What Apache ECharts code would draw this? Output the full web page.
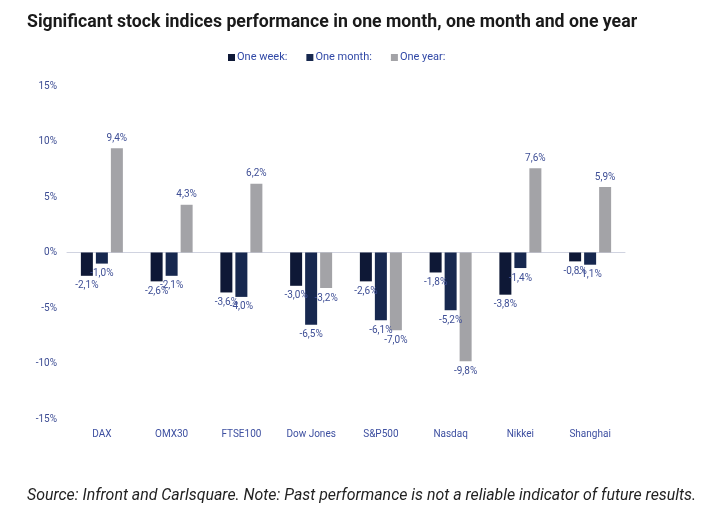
<!DOCTYPE html>
<html>
<head>
<meta charset="utf-8">
<script src="https://cdn.jsdelivr.net/npm/echarts@6/dist/echarts.min.js"></script>
<style>
html,body{margin:0;padding:0;background:#fff;}
#c{width:715px;height:513px;}
</style>
</head>
<body>
<div id="c"></div>
<script>
const categories = ['DAX','OMX30','FTSE100','Dow Jones','S&P500','Nasdaq','Nikkei','Shanghai'];
const oneWeek = [-2.1,-2.6,-3.6,-3.0,-2.6,-1.8,-3.8,-0.8];
const oneMonth = [-1.0,-2.1,-4.0,-6.5,-6.1,-5.2,-1.4,-1.1];
const oneYear = [9.4,4.3,6.2,-3.2,-7.0,-9.8,7.6,5.9];
const seriesNames = ['One week:','One month:','One year:'];

const labelColor = '#3f4f96';
function fmt(v){ return v.toFixed(1).replace('.', ',') + '%'; }
function mkData(arr){
  return arr.map(v => ({
    value: v,
    label: { position: v >= 0 ? 'top' : 'bottom' }
  }));
}
const colors = ['#0e1836','#17284f','#a3a3a7'];
function barSeries(i, arr){
  return {
    name: seriesNames[i], type: 'bar', data: mkData(arr),
    barWidth: 12, barGap: '25%',
    itemStyle: { color: colors[i] },
    label: { show: true, formatter: p => fmt(p.value), color: labelColor, fontFamily: 'Roboto', fontSize: 10, distance: 5 }
  };
}
const chart = echarts.init(document.getElementById('c'));
chart.setOption({
  animation: false,
  backgroundColor: '#ffffff',
  title: [{
    text: 'Significant stock indices performance in one month, one month and one year',
    left: 22, top: 9,
    textStyle: { fontFamily: 'Roboto', fontWeight: 'bold', fontSize: 17.7, color: '#1a1a1a' }
  },{
    text: 'Source: Infront and Carlsquare. Note: Past performance is not a reliable indicator of future results.',
    left: 22, top: 483,
    textStyle: { fontFamily: 'Roboto', fontStyle: 'italic', fontWeight: 'normal', fontSize: 15.9, color: '#222' }
  }],
  legend: {
    data: seriesNames,
    top: 47, left: 223,
    itemWidth: 7, itemHeight: 7, itemGap: 19,
    icon: 'rect',
    textStyle: { fontFamily: 'Roboto', fontSize: 11, color: '#3048a6', padding: [0,0,0,-3] }
  },
  grid: { left: 67, right: 90, top: 86, bottom: 94 },
  xAxis: [{
    type: 'category', data: categories,
    axisLine: { onZero: true, lineStyle: { color: '#d0d3e0', width: 1 } },
    axisTick: { show: false },
    axisLabel: { show: false }
  },{
    type: 'category', data: categories, position: 'bottom',
    axisLine: { show: false }, axisTick: { show: false },
    axisLabel: { show: true, fontFamily: 'Roboto', fontSize: 10, color: '#3d4fa0', margin: 10 }
  }],
  yAxis: {
    type: 'value',
    min: -15, max: 15, interval: 5,
    axisLine: { show: false },
    axisTick: { show: false },
    splitLine: { show: false },
    axisLabel: {
      formatter: v => v + '%',
      fontFamily: 'Roboto', fontSize: 10, color: '#3d4d94', margin: 10
    }
  },
  series: [
    barSeries(0, oneWeek),
    barSeries(1, oneMonth),
    barSeries(2, oneYear)
  ]
});
</script>
</body>
</html>
